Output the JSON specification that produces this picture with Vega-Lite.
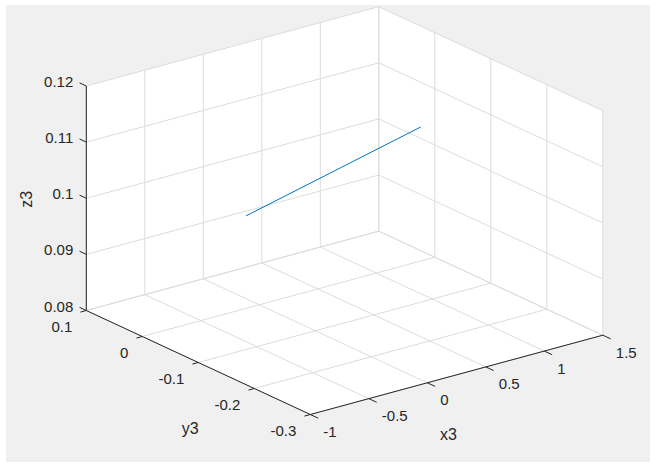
{
  "$schema": "https://vega.github.io/schema/vega-lite/v6.json",
  "width": 644,
  "height": 457,
  "autosize": {"type": "none"},
  "padding": {"left": 6, "top": 5, "right": 10, "bottom": 9},
  "background": "white",
  "config": {"view": {"fill": "#f0f0f0", "stroke": null}, "text": {"font": "Liberation Sans", "fontSize": 15, "color": "#262626"}},
  "datasets": {
    "face": [
      {"i": 1, "x": -1, "y": 0.1, "z": 0.12},
      {"i": 2, "x": 1.5, "y": 0.1, "z": 0.12},
      {"i": 3, "x": 1.5, "y": -0.3, "z": 0.12},
      {"i": 4, "x": 1.5, "y": -0.3, "z": 0.08},
      {"i": 5, "x": -1, "y": -0.3, "z": 0.08},
      {"i": 6, "x": -1, "y": 0.1, "z": 0.08}
    ],
    "grid": [
      {"x1": -1, "y1": 0.1, "z1": 0.08, "x2": -1, "y2": 0.1, "z2": 0.12},
      {"x1": -0.5, "y1": 0.1, "z1": 0.08, "x2": -0.5, "y2": 0.1, "z2": 0.12},
      {"x1": 0, "y1": 0.1, "z1": 0.08, "x2": 0, "y2": 0.1, "z2": 0.12},
      {"x1": 0.5, "y1": 0.1, "z1": 0.08, "x2": 0.5, "y2": 0.1, "z2": 0.12},
      {"x1": 1, "y1": 0.1, "z1": 0.08, "x2": 1, "y2": 0.1, "z2": 0.12},
      {"x1": 1.5, "y1": 0.1, "z1": 0.08, "x2": 1.5, "y2": 0.1, "z2": 0.12},
      {"x1": -1, "y1": 0.1, "z1": 0.08, "x2": 1.5, "y2": 0.1, "z2": 0.08},
      {"x1": -1, "y1": 0.1, "z1": 0.09, "x2": 1.5, "y2": 0.1, "z2": 0.09},
      {"x1": -1, "y1": 0.1, "z1": 0.1, "x2": 1.5, "y2": 0.1, "z2": 0.1},
      {"x1": -1, "y1": 0.1, "z1": 0.11, "x2": 1.5, "y2": 0.1, "z2": 0.11},
      {"x1": -1, "y1": 0.1, "z1": 0.12, "x2": 1.5, "y2": 0.1, "z2": 0.12},
      {"x1": 1.5, "y1": 0.1, "z1": 0.08, "x2": 1.5, "y2": 0.1, "z2": 0.12},
      {"x1": 1.5, "y1": 0, "z1": 0.08, "x2": 1.5, "y2": 0, "z2": 0.12},
      {"x1": 1.5, "y1": -0.1, "z1": 0.08, "x2": 1.5, "y2": -0.1, "z2": 0.12},
      {"x1": 1.5, "y1": -0.2, "z1": 0.08, "x2": 1.5, "y2": -0.2, "z2": 0.12},
      {"x1": 1.5, "y1": -0.3, "z1": 0.08, "x2": 1.5, "y2": -0.3, "z2": 0.12},
      {"x1": 1.5, "y1": 0.1, "z1": 0.08, "x2": 1.5, "y2": -0.3, "z2": 0.08},
      {"x1": 1.5, "y1": 0.1, "z1": 0.09, "x2": 1.5, "y2": -0.3, "z2": 0.09},
      {"x1": 1.5, "y1": 0.1, "z1": 0.1, "x2": 1.5, "y2": -0.3, "z2": 0.1},
      {"x1": 1.5, "y1": 0.1, "z1": 0.11, "x2": 1.5, "y2": -0.3, "z2": 0.11},
      {"x1": 1.5, "y1": 0.1, "z1": 0.12, "x2": 1.5, "y2": -0.3, "z2": 0.12},
      {"x1": -1, "y1": 0.1, "z1": 0.08, "x2": -1, "y2": -0.3, "z2": 0.08},
      {"x1": -0.5, "y1": 0.1, "z1": 0.08, "x2": -0.5, "y2": -0.3, "z2": 0.08},
      {"x1": 0, "y1": 0.1, "z1": 0.08, "x2": 0, "y2": -0.3, "z2": 0.08},
      {"x1": 0.5, "y1": 0.1, "z1": 0.08, "x2": 0.5, "y2": -0.3, "z2": 0.08},
      {"x1": 1, "y1": 0.1, "z1": 0.08, "x2": 1, "y2": -0.3, "z2": 0.08},
      {"x1": 1.5, "y1": 0.1, "z1": 0.08, "x2": 1.5, "y2": -0.3, "z2": 0.08},
      {"x1": -1, "y1": 0.1, "z1": 0.08, "x2": 1.5, "y2": 0.1, "z2": 0.08},
      {"x1": -1, "y1": 0, "z1": 0.08, "x2": 1.5, "y2": 0, "z2": 0.08},
      {"x1": -1, "y1": -0.1, "z1": 0.08, "x2": 1.5, "y2": -0.1, "z2": 0.08},
      {"x1": -1, "y1": -0.2, "z1": 0.08, "x2": 1.5, "y2": -0.2, "z2": 0.08},
      {"x1": -1, "y1": -0.3, "z1": 0.08, "x2": 1.5, "y2": -0.3, "z2": 0.08}
    ],
    "axes": [
      {"x1": -1, "y1": 0.1, "z1": 0.08, "x2": -1, "y2": 0.1, "z2": 0.12},
      {"x1": -1, "y1": 0.1, "z1": 0.08, "x2": -1, "y2": -0.3, "z2": 0.08},
      {"x1": -1, "y1": -0.3, "z1": 0.08, "x2": 1.5, "y2": -0.3, "z2": 0.08}
    ],
    "ticks": [
      {"axis": "x", "label": "-1", "x": -1, "y": -0.3, "z": 0.08},
      {"axis": "x", "label": "-0.5", "x": -0.5, "y": -0.3, "z": 0.08},
      {"axis": "x", "label": "0", "x": 0, "y": -0.3, "z": 0.08},
      {"axis": "x", "label": "0.5", "x": 0.5, "y": -0.3, "z": 0.08},
      {"axis": "x", "label": "1", "x": 1, "y": -0.3, "z": 0.08},
      {"axis": "x", "label": "1.5", "x": 1.5, "y": -0.3, "z": 0.08},
      {"axis": "y", "label": "0.1", "x": -1, "y": 0.1, "z": 0.08},
      {"axis": "y", "label": "0", "x": -1, "y": 0, "z": 0.08},
      {"axis": "y", "label": "-0.1", "x": -1, "y": -0.1, "z": 0.08},
      {"axis": "y", "label": "-0.2", "x": -1, "y": -0.2, "z": 0.08},
      {"axis": "y", "label": "-0.3", "x": -1, "y": -0.3, "z": 0.08},
      {"axis": "z", "label": "0.08", "x": -1, "y": 0.1, "z": 0.08},
      {"axis": "z", "label": "0.09", "x": -1, "y": 0.1, "z": 0.09},
      {"axis": "z", "label": "0.1", "x": -1, "y": 0.1, "z": 0.1},
      {"axis": "z", "label": "0.11", "x": -1, "y": 0.1, "z": 0.11},
      {"axis": "z", "label": "0.12", "x": -1, "y": 0.1, "z": 0.12}
    ],
    "titles": [
      {"axis": "x", "title": "x3", "x": 0.25, "y": -0.3, "z": 0.08},
      {"axis": "y", "title": "y3", "x": -1, "y": -0.1, "z": 0.08},
      {"axis": "z", "title": "z3", "x": -1, "y": 0.1, "z": 0.1}
    ],
    "curve": [
      {"x3": -0.5, "y3": -0.0807, "z3": 0.1024},
      {"x3": 1.0, "y3": -0.0793, "z3": 0.1097}
    ]
  },
  "layer": [
    {
      "data": {"name": "face"},
      "transform": [
        {"calculate": "86.3 + 117*(datum.x+1) + 560*(0.1-datum.y)", "as": "sx"},
        {"calculate": "310.5 - 31.72*(datum.x+1) + 260*(0.1-datum.y) - 5612.5*(datum.z-0.08)", "as": "sy"}
      ],
      "mark": {"type": "line", "fill": "white", "strokeWidth": 0, "stroke": "white"},
      "encoding": {
        "x": {"field": "sx", "type": "quantitative", "scale": {"domain": [6, 650], "nice": false, "zero": false}, "axis": null},
        "y": {"field": "sy", "type": "quantitative", "scale": {"domain": [5, 462], "reverse": true, "nice": false, "zero": false}, "axis": null},
        "order": {"field": "i"}
      }
    },
    {
      "data": {"name": "grid"},
      "transform": [
        {"calculate": "86.3 + 117*(datum.x1+1) + 560*(0.1-datum.y1)", "as": "sx1"},
        {"calculate": "310.5 - 31.72*(datum.x1+1) + 260*(0.1-datum.y1) - 5612.5*(datum.z1-0.08)", "as": "sy1"},
        {"calculate": "86.3 + 117*(datum.x2+1) + 560*(0.1-datum.y2)", "as": "sx2"},
        {"calculate": "310.5 - 31.72*(datum.x2+1) + 260*(0.1-datum.y2) - 5612.5*(datum.z2-0.08)", "as": "sy2"}
      ],
      "mark": {"type": "rule", "color": "#dcdcdc", "strokeWidth": 1},
      "encoding": {
        "x": {"field": "sx1", "type": "quantitative", "scale": {"domain": [6, 650], "nice": false, "zero": false}, "axis": null},
        "y": {"field": "sy1", "type": "quantitative", "scale": {"domain": [5, 462], "reverse": true, "nice": false, "zero": false}, "axis": null},
        "x2": {"field": "sx2"},
        "y2": {"field": "sy2"}
      }
    },
    {
      "data": {"name": "axes"},
      "transform": [
        {"calculate": "86.3 + 117*(datum.x1+1) + 560*(0.1-datum.y1)", "as": "sx1"},
        {"calculate": "310.5 - 31.72*(datum.x1+1) + 260*(0.1-datum.y1) - 5612.5*(datum.z1-0.08)", "as": "sy1"},
        {"calculate": "86.3 + 117*(datum.x2+1) + 560*(0.1-datum.y2)", "as": "sx2"},
        {"calculate": "310.5 - 31.72*(datum.x2+1) + 260*(0.1-datum.y2) - 5612.5*(datum.z2-0.08)", "as": "sy2"}
      ],
      "mark": {"type": "rule", "color": "#262626", "strokeWidth": 1},
      "encoding": {
        "x": {"field": "sx1", "type": "quantitative", "scale": {"domain": [6, 650], "nice": false, "zero": false}, "axis": null},
        "y": {"field": "sy1", "type": "quantitative", "scale": {"domain": [5, 462], "reverse": true, "nice": false, "zero": false}, "axis": null},
        "x2": {"field": "sx2"},
        "y2": {"field": "sy2"}
      }
    },
    {
      "data": {"name": "ticks"},
      "transform": [
        {"calculate": "datum.axis == 'y' ? datum.x - 0.05 : datum.x", "as": "ex"},
        {"calculate": "datum.axis == 'x' ? datum.y - 0.014 : (datum.axis == 'z' ? datum.y + 0.012 : datum.y)", "as": "ey"},
        {"calculate": "86.3 + 117*(datum.x+1) + 560*(0.1-datum.y)", "as": "sx1"},
        {"calculate": "310.5 - 31.72*(datum.x+1) + 260*(0.1-datum.y) - 5612.5*(datum.z-0.08)", "as": "sy1"},
        {"calculate": "86.3 + 117*(datum.ex+1) + 560*(0.1-datum.ey)", "as": "sx2"},
        {"calculate": "310.5 - 31.72*(datum.ex+1) + 260*(0.1-datum.ey) - 5612.5*(datum.z-0.08)", "as": "sy2"}
      ],
      "mark": {"type": "rule", "color": "#262626", "strokeWidth": 1},
      "encoding": {
        "x": {"field": "sx1", "type": "quantitative", "scale": {"domain": [6, 650], "nice": false, "zero": false}, "axis": null},
        "y": {"field": "sy1", "type": "quantitative", "scale": {"domain": [5, 462], "reverse": true, "nice": false, "zero": false}, "axis": null},
        "x2": {"field": "sx2"},
        "y2": {"field": "sy2"}
      }
    },
    {
      "data": {"name": "ticks"},
      "transform": [
        {"filter": "datum.axis == 'x'"},
        {"calculate": "86.3 + 117*(datum.x+1) + 560*(0.1-datum.y)", "as": "sx"},
        {"calculate": "310.5 - 31.72*(datum.x+1) + 260*(0.1-datum.y) - 5612.5*(datum.z-0.08)", "as": "sy"}
      ],
      "mark": {"type": "text", "align": "left", "baseline": "middle", "dx": 13, "dy": 17.5},
      "encoding": {
        "x": {"field": "sx", "type": "quantitative", "scale": {"domain": [6, 650], "nice": false, "zero": false}, "axis": null},
        "y": {"field": "sy", "type": "quantitative", "scale": {"domain": [5, 462], "reverse": true, "nice": false, "zero": false}, "axis": null},
        "text": {"field": "label"}
      }
    },
    {
      "data": {"name": "ticks"},
      "transform": [
        {"filter": "datum.axis == 'y'"},
        {"calculate": "86.3 + 117*(datum.x+1) + 560*(0.1-datum.y)", "as": "sx"},
        {"calculate": "310.5 - 31.72*(datum.x+1) + 260*(0.1-datum.y) - 5612.5*(datum.z-0.08)", "as": "sy"}
      ],
      "mark": {"type": "text", "align": "right", "baseline": "middle", "dx": -14, "dy": 16},
      "encoding": {
        "x": {"field": "sx", "type": "quantitative", "scale": {"domain": [6, 650], "nice": false, "zero": false}, "axis": null},
        "y": {"field": "sy", "type": "quantitative", "scale": {"domain": [5, 462], "reverse": true, "nice": false, "zero": false}, "axis": null},
        "text": {"field": "label"}
      }
    },
    {
      "data": {"name": "ticks"},
      "transform": [
        {"filter": "datum.axis == 'z'"},
        {"calculate": "86.3 + 117*(datum.x+1) + 560*(0.1-datum.y)", "as": "sx"},
        {"calculate": "310.5 - 31.72*(datum.x+1) + 260*(0.1-datum.y) - 5612.5*(datum.z-0.08)", "as": "sy"}
      ],
      "mark": {"type": "text", "align": "right", "baseline": "middle", "dx": -13, "dy": -4},
      "encoding": {
        "x": {"field": "sx", "type": "quantitative", "scale": {"domain": [6, 650], "nice": false, "zero": false}, "axis": null},
        "y": {"field": "sy", "type": "quantitative", "scale": {"domain": [5, 462], "reverse": true, "nice": false, "zero": false}, "axis": null},
        "text": {"field": "label"}
      }
    },
    {
      "data": {"name": "titles"},
      "transform": [
        {"filter": "datum.axis == 'x'"},
        {"calculate": "86.3 + 117*(datum.x+1) + 560*(0.1-datum.y)", "as": "sx"},
        {"calculate": "310.5 - 31.72*(datum.x+1) + 260*(0.1-datum.y) - 5612.5*(datum.z-0.08)", "as": "sy"}
      ],
      "mark": {"type": "text", "align": "center", "baseline": "middle", "fontSize": 16, "dx": -8, "dy": 60},
      "encoding": {
        "x": {"field": "sx", "type": "quantitative", "scale": {"domain": [6, 650], "nice": false, "zero": false}, "axis": null},
        "y": {"field": "sy", "type": "quantitative", "scale": {"domain": [5, 462], "reverse": true, "nice": false, "zero": false}, "axis": null},
        "text": {"field": "title"}
      }
    },
    {
      "data": {"name": "titles"},
      "transform": [
        {"filter": "datum.axis == 'y'"},
        {"calculate": "86.3 + 117*(datum.x+1) + 560*(0.1-datum.y)", "as": "sx"},
        {"calculate": "310.5 - 31.72*(datum.x+1) + 260*(0.1-datum.y) - 5612.5*(datum.z-0.08)", "as": "sy"}
      ],
      "mark": {"type": "text", "align": "center", "baseline": "middle", "fontSize": 16, "dx": -8, "dy": 66},
      "encoding": {
        "x": {"field": "sx", "type": "quantitative", "scale": {"domain": [6, 650], "nice": false, "zero": false}, "axis": null},
        "y": {"field": "sy", "type": "quantitative", "scale": {"domain": [5, 462], "reverse": true, "nice": false, "zero": false}, "axis": null},
        "text": {"field": "title"}
      }
    },
    {
      "data": {"name": "titles"},
      "transform": [
        {"filter": "datum.axis == 'z'"},
        {"calculate": "86.3 + 117*(datum.x+1) + 560*(0.1-datum.y)", "as": "sx"},
        {"calculate": "310.5 - 31.72*(datum.x+1) + 260*(0.1-datum.y) - 5612.5*(datum.z-0.08)", "as": "sy"}
      ],
      "mark": {"type": "text", "align": "center", "baseline": "middle", "fontSize": 16, "angle": 270, "dx": -1, "dy": -59},
      "encoding": {
        "x": {"field": "sx", "type": "quantitative", "scale": {"domain": [6, 650], "nice": false, "zero": false}, "axis": null},
        "y": {"field": "sy", "type": "quantitative", "scale": {"domain": [5, 462], "reverse": true, "nice": false, "zero": false}, "axis": null},
        "text": {"field": "title"}
      }
    },
    {
      "data": {"name": "curve"},
      "transform": [
        {"calculate": "86.3 + 117*(datum.x3+1) + 560*(0.1-datum.y3)", "as": "sx"},
        {"calculate": "310.5 - 31.72*(datum.x3+1) + 260*(0.1-datum.y3) - 5612.5*(datum.z3-0.08)", "as": "sy"}
      ],
      "mark": {"type": "line", "color": "#0072BD", "strokeWidth": 1},
      "encoding": {
        "x": {"field": "sx", "type": "quantitative", "scale": {"domain": [6, 650], "nice": false, "zero": false}, "axis": null},
        "y": {"field": "sy", "type": "quantitative", "scale": {"domain": [5, 462], "reverse": true, "nice": false, "zero": false}, "axis": null}
      }
    }
  ]
}
